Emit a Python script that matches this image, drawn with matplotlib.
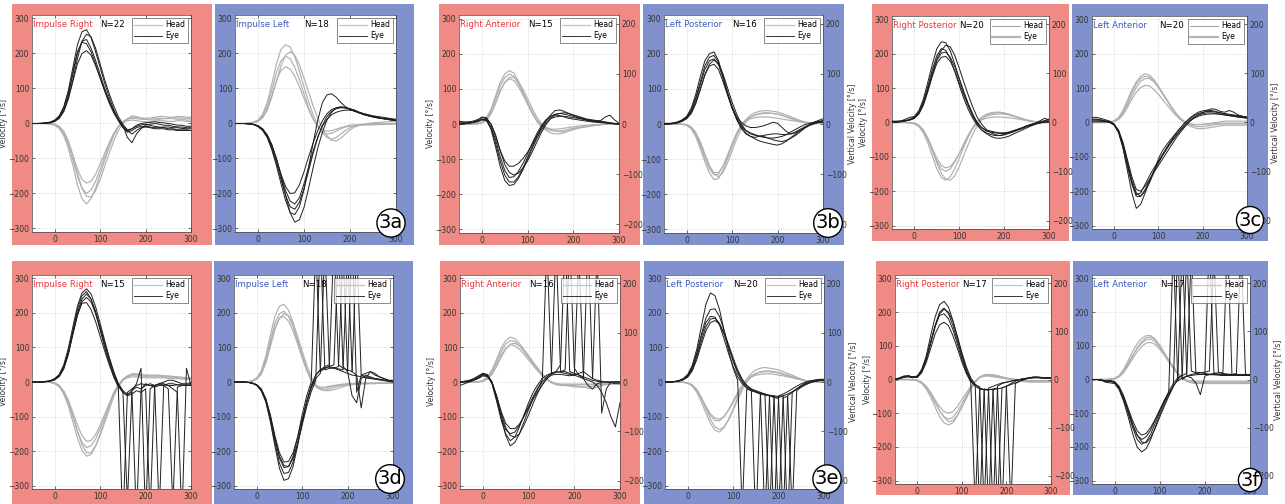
import matplotlib
matplotlib.use("Agg")
import matplotlib.pyplot as plt
from matplotlib.patches import Rectangle
from matplotlib.lines import Line2D

# ---------------- data ----------------
T = [-50, -40, -30, -20, -10, 0, 10, 20, 30, 40, 50, 60, 70, 80, 90, 100, 110, 120,
     130, 140, 150, 160, 170, 180, 190, 200, 210, 220, 230, 240, 250, 260, 270, 280, 290, 300]

# 3a left: Impulse Right
A_L_HEAD = [
    [0,0,0,0,-1,-4,-12,-30,-60,-105,-150,-185,-200,-190,-165,-130,-95,-60,-30,-8,5,12,15,14,12,12,12,14,15,14,14,15,16,16,15,15],
    [0,0,0,0,-1,-5,-14,-35,-70,-120,-175,-215,-230,-215,-185,-145,-105,-68,-35,-10,5,14,18,18,16,15,16,18,20,20,18,18,20,20,18,18],
    [0,0,0,0,-1,-3,-10,-25,-52,-90,-130,-160,-170,-165,-145,-115,-85,-55,-28,-8,3,8,10,8,6,5,5,6,8,8,6,6,8,8,6,6],
    [0,0,0,0,0,-2,-8,-22,-50,-92,-142,-185,-208,-210,-192,-160,-122,-85,-50,-20,0,12,22,20,15,12,10,10,12,14,15,14,12,12,10,10],
]
A_L_EYE = [
    [0,0,0,1,3,8,18,40,80,140,200,235,240,215,180,140,100,65,35,10,-10,-25,-20,-12,-8,-8,-10,-12,-12,-10,-10,-12,-12,-14,-15,-15],
    [0,0,1,2,4,10,22,48,95,160,225,262,268,245,205,160,115,75,40,12,-8,-20,-30,-20,-12,-10,-12,-15,-15,-15,-18,-18,-20,-20,-20,-20],
    [0,0,0,1,2,6,15,35,70,120,170,200,208,195,165,130,95,62,35,12,-5,-40,-55,-30,-15,-5,-2,0,-2,-5,-5,-8,-10,-10,-12,-12],
    [0,0,0,1,3,8,20,45,88,148,205,232,228,205,170,130,92,58,30,8,-12,-22,-15,-5,0,2,3,5,3,2,0,-2,-5,-5,-8,-8],
    [0,0,0,1,2,6,15,35,72,125,185,235,255,248,215,170,125,85,50,20,-2,-18,-15,-8,-4,-2,-5,-8,-10,-12,-15,-15,-18,-18,-18,-20],
]
# 3a right: Impulse Left
A_R_HEAD = [
    [0,0,0,1,3,8,22,50,95,145,180,192,185,160,125,85,45,12,-10,-25,-30,-28,-22,-15,-10,-8,-6,-5,-4,-4,-4,-3,-3,-2,-2,-2],
    [0,0,0,1,4,10,26,60,112,170,212,225,218,190,150,105,62,25,-5,-28,-40,-45,-40,-30,-20,-12,-8,-6,-4,-3,-2,-2,-2,-1,-1,0],
    [0,0,0,1,2,6,18,42,80,122,152,162,155,135,105,72,40,12,-8,-18,-22,-20,-16,-12,-8,-5,-4,-3,-2,-1,0,0,0,0,0,0],
    [0,0,0,0,2,6,16,38,75,120,165,195,205,195,168,130,90,50,15,-15,-35,-48,-50,-42,-30,-18,-10,-5,-2,0,2,3,4,5,5,5],
]
A_R_EYE = [
    [0,0,0,-1,-3,-8,-18,-38,-70,-112,-160,-205,-238,-245,-225,-185,-135,-85,-40,-5,20,35,42,45,45,42,38,32,28,24,20,18,15,14,12,10],
    [0,0,0,-1,-2,-6,-15,-32,-60,-100,-150,-205,-255,-282,-275,-240,-185,-125,-70,-25,10,32,45,48,46,42,38,32,26,22,20,16,14,12,10,8],
    [0,0,0,-1,-3,-8,-18,-36,-65,-102,-145,-180,-200,-198,-175,-138,-95,-55,-20,8,28,40,45,46,44,40,35,30,25,22,18,16,14,12,10,10],
    [0,0,0,-1,-3,-9,-20,-40,-75,-120,-172,-220,-255,-260,-238,-190,-125,-55,10,60,82,85,75,60,48,40,35,30,26,22,20,18,15,12,10,8],
    [0,0,0,-1,-2,-7,-16,-34,-62,-100,-148,-192,-222,-230,-212,-172,-125,-78,-38,-8,12,25,32,36,38,38,36,32,28,25,22,20,18,16,14,12],
]
# 3b left: Right Anterior
B_L_HEAD = [
    [0,0,0,0,1,4,15,38,72,108,132,142,135,115,88,60,32,10,-5,-14,-18,-20,-20,-18,-15,-12,-10,-8,-6,-4,-3,-2,-1,0,0,0],
    [0,0,0,0,1,3,12,32,62,95,118,128,124,106,82,56,30,8,-8,-18,-25,-28,-28,-25,-20,-15,-12,-8,-5,-3,-2,-1,0,0,0,0],
    [0,0,0,0,2,6,18,42,80,118,142,152,145,122,92,62,35,12,-3,-10,-14,-15,-14,-12,-10,-8,-6,-5,-4,-3,-2,-1,0,0,0,0],
    [0,0,0,0,1,3,10,28,58,92,118,132,133,120,98,72,45,20,2,-10,-16,-20,-22,-22,-20,-16,-12,-10,-8,-6,-4,-2,-1,0,0,0],
]
B_L_EYE = [
    [5,5,6,8,12,18,15,-10,-55,-105,-145,-165,-165,-150,-125,-95,-65,-35,-10,8,20,28,30,28,25,22,18,14,10,8,6,5,4,2,0,0],
    [0,2,3,5,10,20,18,0,-35,-75,-105,-120,-120,-112,-98,-80,-58,-35,-12,8,25,38,40,36,30,25,20,16,12,10,8,10,20,25,12,2],
    [-2,0,2,4,8,14,10,-15,-65,-120,-160,-175,-172,-155,-130,-100,-70,-42,-18,2,15,20,22,22,20,18,16,14,12,10,8,6,4,2,1,0],
    [8,6,5,5,8,12,14,0,-30,-75,-115,-138,-145,-140,-125,-105,-80,-52,-25,-2,15,25,30,32,30,26,22,18,14,12,10,8,6,4,2,0],
    [0,0,2,4,6,12,10,-8,-45,-92,-132,-152,-150,-135,-112,-85,-55,-28,-5,12,22,26,24,20,16,14,12,10,8,6,5,4,3,2,1,0],
]
# 3b right: Left Posterior
B_R_HEAD = [
    [0,0,0,0,-1,-3,-12,-32,-62,-98,-128,-145,-142,-120,-88,-55,-25,-2,12,20,25,28,30,30,30,28,25,20,15,10,6,3,2,2,2,2],
    [0,0,0,0,-1,-4,-14,-36,-70,-108,-140,-158,-155,-132,-98,-62,-30,-5,12,25,32,36,38,38,36,34,30,25,20,15,10,6,4,3,3,3],
    [0,0,0,0,-1,-2,-10,-28,-55,-90,-120,-138,-138,-120,-92,-60,-30,-8,8,15,18,20,20,20,18,16,14,12,10,8,6,4,3,2,2,2],
    [0,0,0,0,0,-2,-8,-24,-50,-85,-118,-142,-150,-138,-110,-76,-42,-15,5,18,26,30,32,32,30,28,24,20,16,12,8,5,3,2,2,2],
]
B_R_EYE = [
    [0,0,2,5,10,20,40,75,120,165,190,195,175,135,90,50,18,-5,-18,-25,-30,-35,-38,-40,-40,-38,-35,-30,-22,-15,-8,-2,2,5,8,8],
    [2,2,3,6,12,22,45,85,135,180,200,205,180,135,85,45,15,-8,-25,-35,-42,-48,-52,-55,-58,-60,-56,-48,-38,-28,-18,-10,-4,0,5,8],
    [0,0,1,3,8,16,32,62,100,140,165,170,155,120,82,45,20,5,-5,-10,-10,-8,-5,0,5,2,-10,-22,-28,-25,-18,-10,-2,5,10,15],
    [0,0,1,4,9,18,36,70,112,155,180,185,168,130,85,45,12,-12,-28,-35,-38,-35,-32,-30,-28,-28,-30,-30,-28,-22,-15,-8,-2,2,4,5],
    [0,1,2,4,8,15,30,58,98,140,170,182,172,142,102,62,28,0,-18,-28,-32,-34,-36,-40,-45,-48,-50,-46,-40,-32,-22,-12,-4,2,6,10],
]
# 3c left: Right Posterior
C_L_HEAD = [
    [0,0,0,0,-1,-3,-10,-25,-50,-82,-112,-135,-142,-135,-115,-90,-62,-36,-14,2,12,18,22,24,25,24,22,18,14,10,6,4,2,1,0,0],
    [0,0,0,0,-1,-4,-12,-30,-60,-98,-135,-160,-168,-158,-134,-104,-72,-42,-16,4,16,24,28,30,30,28,25,20,15,10,6,3,1,0,0,0],
    [0,0,0,0,-1,-2,-8,-22,-45,-75,-104,-125,-132,-128,-112,-90,-65,-40,-18,-2,8,12,15,16,16,15,14,12,10,8,6,4,2,1,0,0],
    [0,0,0,0,0,-2,-8,-22,-48,-82,-118,-148,-165,-168,-155,-128,-96,-64,-34,-10,8,20,26,28,28,26,24,20,16,12,8,5,2,1,0,0],
]
C_L_EYE = [
    [2,2,3,5,8,14,30,60,105,155,195,215,210,185,148,108,70,38,12,-8,-22,-30,-35,-38,-38,-35,-30,-25,-20,-15,-10,-6,-3,0,2,3],
    [0,2,4,10,15,18,35,68,118,170,215,235,232,208,170,128,88,52,20,-5,-22,-32,-40,-45,-46,-44,-40,-34,-28,-22,-16,-10,-5,-2,0,2],
    [4,4,5,6,8,12,25,50,90,135,172,190,192,178,150,115,80,48,20,-2,-15,-22,-25,-28,-30,-30,-28,-24,-20,-16,-12,-8,-4,0,5,10],
    [0,0,2,5,10,16,30,58,100,145,185,210,225,220,195,158,118,80,45,15,-5,-20,-30,-35,-38,-36,-32,-28,-22,-16,-10,-5,-2,2,5,5],
    [2,2,3,4,7,12,26,55,95,140,180,202,205,190,162,126,90,55,25,0,-15,-25,-28,-30,-32,-32,-30,-26,-22,-18,-12,-8,-2,5,12,8],
]
# 3c right: Left Anterior
C_R_HEAD = [
    [0,0,0,0,1,4,12,30,58,88,112,128,135,132,120,102,82,62,42,25,10,0,-6,-10,-12,-12,-10,-8,-6,-5,-4,-4,-4,-4,-4,-4],
    [0,0,0,0,1,3,10,25,50,78,102,120,128,128,118,102,84,64,44,26,10,-2,-10,-15,-18,-18,-16,-14,-12,-10,-8,-8,-8,-8,-8,-8],
    [0,0,0,0,1,5,15,35,65,95,118,135,142,138,125,106,85,64,44,26,12,2,-4,-6,-6,-5,-4,-2,0,2,4,4,4,4,4,4],
    [0,0,0,0,1,3,9,22,44,68,88,102,108,106,96,82,66,50,34,20,8,0,-4,-6,-6,-6,-5,-4,-3,-2,-2,-2,-2,-2,-2,-2],
]
C_R_EYE = [
    [10,10,8,5,2,-5,-25,-65,-120,-175,-210,-205,-180,-155,-132,-112,-92,-72,-55,-38,-22,-8,5,15,22,26,28,28,26,24,22,20,18,16,15,14],
    [15,15,12,8,4,-4,-28,-75,-140,-205,-250,-238,-205,-170,-140,-115,-92,-70,-50,-32,-15,0,12,22,30,34,36,35,32,28,25,22,20,18,16,15],
    [5,5,4,3,1,-6,-22,-58,-108,-158,-195,-200,-185,-165,-145,-125,-105,-85,-65,-45,-28,-12,2,14,22,28,35,40,38,32,30,35,30,22,18,15],
    [8,8,6,4,0,-8,-30,-72,-128,-180,-215,-215,-195,-168,-142,-118,-95,-75,-55,-38,-22,-8,4,12,18,22,24,25,25,24,22,20,18,16,14,12],
    [2,2,2,2,0,-6,-24,-62,-115,-168,-205,-215,-200,-175,-145,-105,-80,-62,-46,-30,-15,-2,10,20,26,30,32,32,30,28,26,24,22,20,18,16],
]
# 3d left: Impulse Right
D_L_HEAD = [
    [0,0,0,0,-1,-4,-12,-30,-60,-100,-142,-175,-190,-185,-165,-135,-100,-65,-32,-8,8,16,20,20,18,16,15,15,15,15,14,14,12,12,10,10],
    [0,0,0,0,-1,-5,-14,-35,-70,-115,-162,-198,-215,-210,-185,-150,-110,-72,-36,-10,8,18,24,24,22,20,18,18,18,17,16,15,14,12,10,10],
    [0,0,0,0,-1,-3,-10,-26,-52,-88,-125,-155,-172,-170,-152,-125,-94,-62,-30,-8,6,12,15,15,14,12,12,12,12,12,10,10,10,8,8,8],
    [0,0,0,0,0,-3,-10,-28,-58,-98,-142,-182,-205,-205,-186,-155,-118,-80,-42,-14,4,15,20,22,22,20,20,20,20,18,18,16,15,14,12,12],
]
D_L_EYE = [
    [0,0,0,1,3,8,20,45,90,150,210,250,262,240,200,150,100,55,15,-15,-420,-30,-20,-10,-5,-8,-10,-10,-8,-8,-10,-10,-8,-8,-8,-8],
    [0,0,0,1,2,6,16,38,80,140,200,240,255,240,205,160,112,68,28,-5,-25,-35,-30,-400,-20,-10,-5,-10,-380,-10,-5,-5,-8,-10,-10,-10],
    [0,0,0,1,3,8,18,42,85,142,195,228,230,210,175,132,90,50,15,-12,-30,-38,-25,-5,40,-400,-20,-10,-5,0,5,5,0,-5,-5,-5],
    [0,0,1,2,4,10,22,50,98,160,220,258,270,255,218,170,120,72,30,-5,-25,-350,-25,-15,-20,-5,-10,-15,-10,-10,-20,-360,-15,-10,-10,-10],
    [0,0,0,1,2,7,17,40,82,138,192,232,245,232,198,155,108,62,22,-10,-30,-40,-35,-25,-30,-20,-380,-10,-5,-5,-10,-20,-30,-400,40,-10],
]
# 3d right: Impulse Left
D_R_HEAD = [
    [0,0,0,1,3,10,28,65,120,170,198,205,190,160,118,75,35,5,-12,-18,-18,-15,-12,-10,-8,-6,-5,-5,-4,-4,-4,-4,-3,-3,-3,-3],
    [0,0,0,1,4,12,32,75,135,190,220,225,208,172,128,80,38,6,-14,-22,-24,-20,-16,-12,-10,-8,-6,-6,-5,-5,-5,-5,-4,-4,-4,-4],
    [0,0,0,1,3,9,25,60,110,158,185,190,176,148,110,70,33,5,-10,-15,-15,-12,-10,-8,-6,-5,-4,-4,-3,-3,-3,-3,-3,-3,-3,-3],
    [0,0,0,1,2,8,22,54,102,152,185,198,192,168,132,90,50,15,-8,-20,-25,-25,-22,-18,-14,-10,-8,-6,-5,-5,-4,-4,-4,-4,-4,-4],
]
D_R_EYE = [
    [0,0,0,-1,-3,-8,-22,-50,-100,-165,-220,-248,-245,-215,-160,-95,-40,0,400,30,40,45,40,35,30,25,20,18,15,12,10,8,6,4,2,0],
    [0,0,0,-1,-4,-10,-26,-58,-115,-185,-250,-285,-280,-245,-185,-120,-60,-15,20,35,45,50,420,50,40,35,30,400,20,15,12,10,8,6,4,2],
    [0,0,0,-1,-3,-8,-20,-48,-95,-155,-205,-232,-230,-205,-160,-108,-58,-18,10,25,400,40,40,45,380,30,-40,-60,10,20,15,10,8,5,3,2],
    [0,0,0,-1,-3,-9,-24,-55,-108,-175,-235,-265,-262,-232,-178,-115,-55,-10,20,35,40,45,50,400,45,30,420,-30,20,25,30,20,15,10,5,5],
    [0,0,0,-1,-3,-8,-21,-50,-100,-162,-215,-242,-245,-222,-178,-125,-72,-28,5,420,35,40,42,38,35,380,30,20,-75,10,30,25,15,10,5,2],
]
# 3e left: Right Anterior
E_L_HEAD = [
    [0,0,0,0,1,3,12,30,58,88,110,120,118,105,88,70,52,35,20,8,0,-4,-6,-6,-6,-6,-6,-6,-6,-6,-5,-5,-5,-4,-4,-4],
    [0,0,0,0,1,4,14,35,66,98,120,130,126,112,94,75,56,38,22,8,-2,-8,-10,-10,-10,-10,-12,-14,-18,-20,-15,-10,-8,-6,-5,-5],
    [0,0,0,0,1,2,10,26,50,78,98,108,105,95,80,64,48,32,18,6,-2,-6,-8,-8,-8,-8,-8,-8,-8,-8,-8,-6,-6,-6,-5,-5],
    [0,0,0,0,0,2,8,22,45,72,95,110,112,105,92,76,58,40,24,10,0,-5,-8,-10,-12,-14,-15,-15,-14,-12,-10,-8,-6,-5,-4,-4],
]
E_L_EYE = [
    [0,2,5,10,18,25,20,-5,-55,-110,-150,-170,-160,-130,-95,-60,-30,-8,10,20,25,30,50,420,30,25,20,15,10,5,2,0,0,0,0,0],
    [-10,-5,0,5,12,22,18,-5,-50,-100,-138,-150,-145,-125,-98,-70,-42,-18,5,400,25,30,28,25,22,20,380,10,-10,-20,-5,0,0,-2,-5,-5],
    [0,0,2,6,12,20,18,0,-40,-85,-120,-135,-135,-122,-100,-75,-50,-28,-8,10,22,28,30,35,420,40,20,10,5,0,-10,-30,-60,-100,-130,-60],
    [0,2,4,8,15,25,22,0,-45,-100,-155,-185,-175,-150,-115,-80,-48,-20,0,15,25,400,30,30,25,20,15,10,420,10,5,2,0,0,0,0],
    [0,0,2,5,10,18,15,-2,-40,-90,-132,-155,-160,-150,-125,-95,-62,-32,-8,10,20,22,22,20,18,20,25,30,20,10,380,-90,-20,0,0,0],
]
# 3e right: Left Posterior
E_R_HEAD = [
    [0,0,0,0,-1,-3,-10,-25,-48,-75,-98,-112,-112,-100,-80,-55,-30,-8,8,18,25,28,30,30,28,26,22,18,14,10,6,3,2,1,0,0],
    [0,0,0,0,-1,-4,-12,-30,-58,-90,-120,-140,-145,-132,-108,-78,-45,-15,8,25,35,40,42,40,38,35,30,25,20,14,8,4,2,1,0,0],
    [0,0,0,0,-1,-3,-9,-22,-44,-70,-92,-105,-108,-100,-82,-60,-36,-14,4,14,20,22,24,24,22,20,18,15,12,9,6,3,2,1,0,0],
    [0,0,0,0,0,-2,-8,-22,-46,-78,-108,-130,-138,-130,-110,-82,-52,-24,0,15,24,30,32,32,30,28,24,20,16,12,8,4,2,1,0,0],
]
E_R_EYE = [
    [0,0,1,3,8,18,40,80,130,172,190,188,165,125,82,45,15,-5,-18,-25,-30,-35,-38,-40,-420,-40,-35,-28,-20,-12,-5,0,3,5,6,6],
    [0,0,1,4,10,22,48,95,160,225,258,250,210,150,90,40,5,-380,-20,-25,-28,-32,-35,-40,-45,-48,-400,-40,-30,-20,-10,-2,3,6,8,8],
    [0,0,1,3,7,16,36,72,118,160,182,185,170,138,100,62,30,5,-10,-20,-25,-30,-400,-40,-42,-45,-40,-420,-30,-20,-12,-5,0,3,5,5],
    [0,0,1,3,8,18,42,85,138,185,210,212,190,150,104,60,25,0,-15,-22,-28,-32,-35,-38,-40,-400,-45,-42,-380,-25,-15,-8,-2,2,4,5],
    [0,0,1,2,6,14,32,65,108,148,172,178,168,142,108,70,35,8,-10,-22,-420,-30,-35,-400,-40,-42,-40,-35,-28,-20,-12,-6,-2,2,4,5],
]
# 3f left: Right Posterior
F_L_HEAD = [
    [0,0,0,0,-1,-3,-10,-24,-45,-70,-92,-110,-118,-112,-95,-72,-48,-25,-6,6,10,12,10,8,6,4,2,0,-2,-4,-5,-5,-5,-5,-5,-5],
    [0,0,0,0,-1,-4,-12,-28,-52,-82,-110,-128,-135,-128,-108,-82,-55,-28,-6,8,14,15,13,10,6,3,0,-2,-4,-6,-8,-8,-8,-8,-8,-8],
    [0,0,0,0,-1,-2,-8,-20,-38,-60,-80,-95,-100,-95,-80,-60,-40,-20,-4,6,10,10,8,6,4,2,1,0,-1,-2,-3,-3,-3,-3,-3,-3],
    [0,0,0,0,0,-2,-8,-20,-40,-66,-92,-112,-125,-122,-106,-82,-56,-30,-8,6,12,15,14,12,8,5,2,0,-2,-3,-4,-4,-4,-4,-4,-4],
]
F_L_EYE = [
    [0,5,10,8,5,8,25,60,110,160,200,212,195,160,115,68,28,0,-15,-22,-380,-25,-20,-15,-10,-8,-5,-2,0,2,4,5,6,6,5,5],
    [0,3,8,10,8,10,30,70,130,185,222,232,215,175,125,75,30,-5,-20,-28,-30,-32,-400,-20,-12,-8,-5,-2,0,3,5,6,6,5,4,4],
    [0,4,10,12,6,6,20,50,92,135,162,170,160,130,92,52,18,-8,-380,-28,-30,-30,-28,-25,-400,-20,-12,-5,0,2,4,5,5,4,4,4],
    [0,2,6,8,6,8,24,58,105,155,195,208,200,172,128,80,38,5,-15,-25,-30,-400,-30,-28,-25,-20,-380,-12,-5,0,4,6,6,5,4,4],
    [0,4,8,10,8,10,28,62,112,160,190,195,180,148,105,60,22,-5,-18,-400,-28,-30,-30,-390,-25,-20,-15,-10,-5,0,4,8,8,6,5,5],
]
# 3f right: Left Anterior
F_R_HEAD = [
    [0,0,0,0,1,3,10,25,48,72,92,108,118,120,112,96,76,55,35,18,5,-3,-6,-8,-8,-8,-8,-8,-8,-8,-8,-8,-8,-8,-8,-8],
    [0,0,0,0,1,4,12,30,56,84,106,122,130,130,120,102,80,58,38,20,6,-4,-8,-10,-10,-10,-10,-10,-10,-10,-10,-10,-10,-10,-10,-10],
    [0,0,0,0,1,2,8,20,40,62,82,98,108,110,104,90,72,52,34,18,6,-2,-4,-5,-5,-5,-5,-5,-5,-5,-5,-5,-5,-5,-5,-5],
    [0,0,0,0,0,2,8,22,44,70,94,112,124,126,118,100,78,55,34,15,2,-6,-10,-12,-12,-12,-12,-12,-12,-12,-12,-12,-12,-12,-12,-12],
]
F_R_EYE = [
    [0,0,-2,-6,-4,-8,-25,-55,-95,-135,-165,-178,-170,-150,-120,-90,-62,-38,400,-5,5,10,12,14,15,15,14,14,13,12,12,12,12,12,12,12],
    [0,0,-2,-8,-10,-12,-30,-65,-110,-160,-200,-215,-205,-178,-142,-105,-72,-45,-20,0,15,380,25,20,15,15,420,20,15,12,12,14,15,15,15,15],
    [0,0,-1,-4,-3,-6,-20,-48,-85,-122,-152,-165,-160,-142,-118,-92,-66,-42,-20,-2,400,10,5,-10,-45,10,15,18,20,20,420,15,15,12,12,12],
    [0,0,-2,-5,-5,-9,-26,-58,-100,-142,-178,-192,-185,-162,-130,-96,-64,-36,-12,5,12,18,380,22,20,18,16,15,15,15,15,15,18,400,15,15],
    [0,0,-1,-5,-6,-8,-24,-52,-92,-132,-165,-185,-188,-172,-145,-112,-80,-50,-22,400,0,10,15,18,20,22,25,380,20,18,16,15,14,14,14,14],
]

TITLES_LEFT = ["Impulse Right", "Right Anterior", "Right Posterior",
               "Impulse Right", "Right Anterior", "Right Posterior"]
TITLES_RIGHT = ["Impulse Left", "Left Posterior", "Left Anterior",
                "Impulse Left", "Left Posterior", "Left Anterior"]
N_LEFT = [22, 15, 20, 15, 16, 17]
N_RIGHT = [18, 16, 20, 18, 20, 17]
PANEL_LABELS = ["3a", "3b", "3c", "3d", "3e", "3f"]
X_TICKS = [0, 100, 200, 300]
Y_TICKS = [-300, -200, -100, 0, 100, 200, 300]
Y2_TICKS = [-200, -100, 0, 100, 200]

HEADS_L = [A_L_HEAD, B_L_HEAD, C_L_HEAD, D_L_HEAD, E_L_HEAD, F_L_HEAD]
EYES_L = [A_L_EYE, B_L_EYE, C_L_EYE, D_L_EYE, E_L_EYE, F_L_EYE]
HEADS_R = [A_R_HEAD, B_R_HEAD, C_R_HEAD, D_R_HEAD, E_R_HEAD, F_R_HEAD]
EYES_R = [A_R_EYE, B_R_EYE, C_R_EYE, D_R_EYE, E_R_EYE, F_R_EYE]

# ---------------- layout (pixels) ----------------
W, H = 1285, 504
RED = "#f08a84"
BLUE = "#8191cd"
RED_TXT = "#e8363a"
BLUE_TXT = "#3b5bbf"

LAYOUT = [
    ((12, 4, 212, 245), (32, 15, 191, 232), (215, 4, 414, 245), (235, 15, 396, 232), (391, 223), False),
    ((439, 4, 640, 245), (459, 15, 619, 233), (643, 4, 844, 245), (664, 15, 823, 233), (828, 223), True),
    ((872, 4, 1069, 241), (892, 16, 1049, 229), (1072, 4, 1268, 241), (1092, 16, 1247, 229), (1250, 220), True),
    ((12, 261, 212, 504), (32, 275, 191, 489), (214, 261, 413, 504), (234, 275, 393, 489), (390, 479), False),
    ((440, 261, 640, 504), (460, 275, 620, 489), (644, 261, 844, 504), (665, 275, 824, 489), (827, 479), True),
    ((876, 261, 1070, 495), (895, 275, 1051, 484), (1073, 261, 1268, 495), (1092, 275, 1250, 484), (1250, 480), True),
]

fig = plt.figure(figsize=(W / 100, H / 100), dpi=100)
fig.patch.set_facecolor("white")


def fig_rect(box, color):
    l, t, r, b = box
    fig.patches.append(Rectangle((l / W, 1 - b / H), (r - l) / W, (b - t) / H,
                                 transform=fig.transFigure, facecolor=color,
                                 edgecolor="none", zorder=-10))


def make_axes(box):
    l, t, r, b = box
    ax = fig.add_axes([l / W, 1 - b / H, (r - l) / W, (b - t) / H])
    ax.set_zorder(1)
    return ax


HEAD_C = "#b0b0b0"
EYE_C = "#1e1e1e"


def draw_panel(ax, heads, eyes, title, tcolor, n, twin, ylabel_left, ylabel_right, special_legend=False):
    ax.set_facecolor("white")
    for tr in heads:
        ax.plot(T, tr, color=HEAD_C, lw=0.85, zorder=2)
    for tr in eyes:
        ax.plot(T, tr, color=EYE_C, lw=0.7, zorder=3)
    ax.set_xlim(-50, 300)
    ax.set_ylim(-310, 310)
    ax.set_xticks(X_TICKS)
    ax.set_yticks(Y_TICKS)
    ax.grid(True, linestyle=(0, (1, 2)), color="#bbbbbb", lw=0.5)
    ax.tick_params(labelsize=5.5, colors="#333333", direction="in", length=2, width=0.5,
                   pad=2, top=not twin, right=not twin)
    for s in ax.spines.values():
        s.set_linewidth(0.5)
        s.set_color("#444444")
    ax.text(0.005, 0.955, title, transform=ax.transAxes, color=tcolor, fontsize=6.2,
            ha="left", va="center", zorder=6)
    ax.text(0.43, 0.955, f"N={n}", transform=ax.transAxes, color="black", fontsize=6.2,
            ha="left", va="center", zorder=6)
    if special_legend:
        handles = [Line2D([], [], color="#9a9a9a", lw=0.7), Line2D([], [], color="#b5b5b5", lw=1.6)]
    else:
        handles = [Line2D([], [], color="#c4c4c4", lw=0.9), Line2D([], [], color="#333333", lw=0.7)]
    leg = ax.legend(handles, ["Head", "Eye"], loc="upper right", fontsize=5.5, handlelength=3.6,
                    frameon=True, fancybox=False, borderpad=0.35, labelspacing=0.25,
                    handletextpad=0.5, borderaxespad=0.35)
    leg.get_frame().set_edgecolor("#555555")
    leg.get_frame().set_linewidth(0.6)
    leg.set_zorder(7)
    if ylabel_left:
        ax.set_ylabel("Velocity [°/s]", fontsize=5.5, color="#333333")
        ax.yaxis.set_label_coords(-0.15, 0.5)
    if twin:
        ax2 = ax.twinx()
        ax2.set_ylim(-217, 217)
        ax2.set_yticks(Y2_TICKS)
        ax2.tick_params(labelsize=5.5, colors="#333333", direction="in", length=2, width=0.5, pad=2)
        for s in ax2.spines.values():
            s.set_visible(False)
        if ylabel_right:
            ax2.set_ylabel("Vertical Velocity [°/s]", fontsize=5.5, color="#333333")
            ax2.yaxis.set_label_coords(1.155, 0.5)


for i, (rb, al, bb, ar, lab, twin) in enumerate(LAYOUT):
    fig_rect(rb, RED)
    fig_rect(bb, BLUE)
    axl = make_axes(al)
    draw_panel(axl, HEADS_L[i], EYES_L[i], TITLES_LEFT[i], RED_TXT, N_LEFT[i], twin,
               True, False, special_legend=(i == 2))
    axr = make_axes(ar)
    draw_panel(axr, HEADS_R[i], EYES_R[i], TITLES_RIGHT[i], BLUE_TXT, N_RIGHT[i], twin,
               False, True, special_legend=(i == 2))
    fig.text(lab[0] / W, 1 - lab[1] / H, PANEL_LABELS[i], fontsize=14, ha="center", va="center",
             color="black", zorder=10,
             bbox=dict(boxstyle="circle,pad=0.1", facecolor="white", edgecolor="black", linewidth=1.0))

fig.savefig("out.png", dpi=100, facecolor="white")
